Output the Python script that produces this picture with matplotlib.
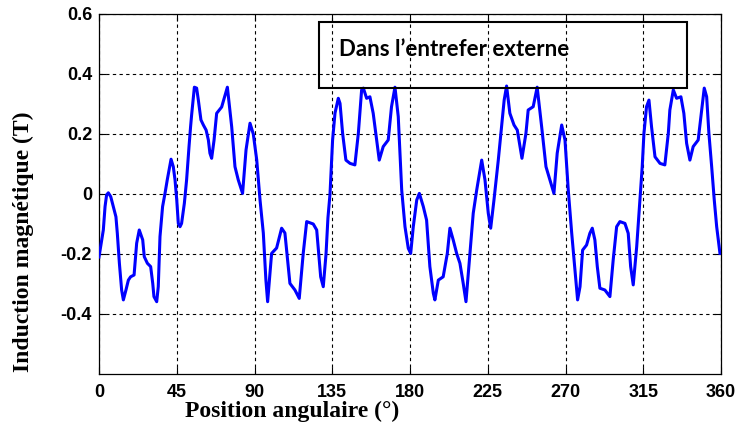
import matplotlib
matplotlib.use("Agg")
import matplotlib.pyplot as plt
from matplotlib.patches import Rectangle

position_deg = [
    0, 2.5, 3.5, 4.4, 5.4, 6.8, 8.3, 9.8, 10.6, 11.8, 13.1, 14.1, 15.6, 17, 18.3, 20.3,
    21.8, 23.3, 25.3, 26.2, 28, 29.9, 31.1, 31.8, 33.4, 34.3, 35.3, 36.8, 38.2, 39.5,
    41.7, 43, 44, 45, 45.9, 46.9, 47.8, 49.4, 50.7, 52.1, 53, 53.6, 55.2, 56.5, 57.5,
    59, 60.4, 62, 63.3, 64.2, 65.2, 66.6, 68.1, 71, 74.3, 76.8, 78.7, 80.6, 83.1, 85.1,
    87.4, 89.3, 91.3, 93.2, 95.1, 96.6, 97.6, 99.9, 102.8, 105.7, 107.6, 110.5, 113.4,
    115.9, 118.2, 120.2, 124, 126, 128.3, 129.8, 131.4, 132.5, 133.7, 135.2, 136.6,
    138.5, 139.5, 141, 142.9, 145.3, 148.1, 150.1, 152, 153, 154.9, 156.8, 158.7, 160.7,
    162.2, 164.5, 167.4, 169.3, 171.3, 173.2, 175.2, 177.1, 179, 180.4, 181.9, 183.9,
    185.4, 187.7, 189.6, 191.5, 193.5, 194.4, 196.4, 199.2, 201.6, 203.1, 205, 207,
    208.9, 210.8, 212.4, 214.7, 216.6, 218.6, 221.5, 223.4, 225.3, 226.7, 228.6, 231.1,
    233, 234.5, 235.9, 237.8, 240.2, 242.1, 244.8, 247.1, 248.4, 251.3, 253.6, 256.2,
    258.7, 261, 263.3, 265.2, 267.8, 269.7, 271.6, 273.6, 275.5, 277, 278.4, 279.9,
    282.2, 284.1, 285.5, 287, 288.4, 289.9, 292.8, 295.7, 297.6, 299.6, 301.5, 304.4,
    306.3, 307.7, 309.2, 311.2, 313.1, 314.4, 315.4, 316.9, 318.3, 319.8, 321.8, 324.7,
    327.5, 329.5, 330.4, 332.4, 334.3, 336.8, 338.5, 340.1, 342, 343.9, 346.8, 348.8,
    350.3, 351.7, 353, 354.6, 356.1, 357.5, 359.4,
]
induction_T = [
    -0.21, -0.12, -0.042, -0.003, 0.004, -0.009, -0.042, -0.076, -0.131, -0.231, -0.32,
    -0.353, -0.32, -0.287, -0.276, -0.27, -0.164, -0.12, -0.153, -0.209, -0.231, -0.242,
    -0.298, -0.342, -0.359, -0.309, -0.142, -0.042, 0.002, 0.047, 0.116, 0.091, 0.047,
    -0.02, -0.098, -0.109, -0.098, -0.031, 0.047, 0.158, 0.224, 0.263, 0.356, 0.353,
    0.313, 0.247, 0.23, 0.213, 0.18, 0.136, 0.119, 0.18, 0.269, 0.29, 0.356, 0.224,
    0.091, 0.047, 0.002, 0.147, 0.236, 0.2, 0.113, -0.02, -0.13, -0.287, -0.359, -0.198,
    -0.18, -0.114, -0.13, -0.298, -0.32, -0.348, -0.198, -0.092, -0.1, -0.12, -0.276,
    -0.309, -0.2, -0.08, 0.0, 0.18, 0.27, 0.319, 0.302, 0.202, 0.113, 0.102, 0.097,
    0.202, 0.347, 0.353, 0.319, 0.324, 0.269, 0.18, 0.113, 0.158, 0.18, 0.291, 0.356,
    0.258, 0.013, -0.109, -0.181, -0.198, -0.109, -0.02, 0.002, -0.042, -0.087, -0.242,
    -0.331, -0.353, -0.287, -0.276, -0.198, -0.114, -0.153, -0.198, -0.231, -0.298,
    -0.359, -0.198, -0.064, 0.013, 0.113, 0.047, -0.064, -0.114, -0.02, 0.113, 0.224,
    0.313, 0.36, 0.269, 0.23, 0.213, 0.119, 0.202, 0.28, 0.291, 0.356, 0.224, 0.091,
    0.047, 0.002, 0.136, 0.23, 0.18, 0.013, -0.131, -0.253, -0.353, -0.309, -0.187,
    -0.17, -0.131, -0.114, -0.153, -0.242, -0.314, -0.32, -0.342, -0.22, -0.109, -0.092,
    -0.098, -0.131, -0.242, -0.303, -0.176, -0.02, 0.091, 0.202, 0.291, 0.313, 0.224,
    0.124, 0.102, 0.097, 0.202, 0.28, 0.347, 0.319, 0.324, 0.269, 0.169, 0.113, 0.158,
    0.18, 0.28, 0.353, 0.324, 0.202, 0.091, -0.02, -0.109, -0.198,
]
x_ticks = [0, 45, 90, 135, 180, 225, 270, 315, 360]
y_ticks = [-0.4, -0.2, 0, 0.2, 0.4, 0.6]
y_tick_labels = ["-0.4", "-0.2", "0", "0.2", "0.4", "0.6"]
x_label = "Position angulaire (°)"
y_label = "Induction magnétique (T)"
box_text = "Dans l’entrefer externe"

fig = plt.figure(figsize=(7.36, 4.24), dpi=100)
ax = fig.add_axes([99/736, 1-374/424, (721-99)/736, (374-14)/424])

ax.plot(position_deg, induction_T, color="#0000FF", lw=2.2, zorder=3)
ax.set_xlim(0, 360)
ax.set_ylim(-0.6, 0.6)
ax.set_xticks(x_ticks)
ax.set_yticks(y_ticks)
ax.set_yticklabels(y_tick_labels)
ax.grid(True, color="black", linestyle=(0, (3, 3)), linewidth=0.8)
ax.tick_params(direction="in", length=5, width=0.8, top=True, right=True,
               labelsize=13)
ax.tick_params(axis="y", pad=5)
ax.tick_params(axis="x", pad=7)
for lbl in ax.get_xticklabels() + ax.get_yticklabels():
    lbl.set_family(["Liberation Sans", "DejaVu Sans"])
    lbl.set_fontweight("bold")
for s in ax.spines.values():
    s.set_linewidth(0.9)

ax.add_patch(Rectangle((127.5, 0.355), 340.1-127.5, 0.574-0.355, fill=False,
                       edgecolor="black", lw=1.5, zorder=4))
ax.text(138.9, 0.482, box_text, fontsize=16, fontweight="bold",
        family=["Lato", "DejaVu Sans"], va="center", ha="left", zorder=5)

fig.text(292/736, 1-417/424, x_label, ha="center", va="baseline",
         fontsize=17, fontweight="bold", family=["Liberation Serif", "DejaVu Serif"])
fig.text(23/736, 1-242/424, y_label, ha="center", va="center", rotation=90,
         fontsize=17, fontweight="bold", family=["Liberation Serif", "DejaVu Serif"])

fig.savefig("out.png", dpi=100)
